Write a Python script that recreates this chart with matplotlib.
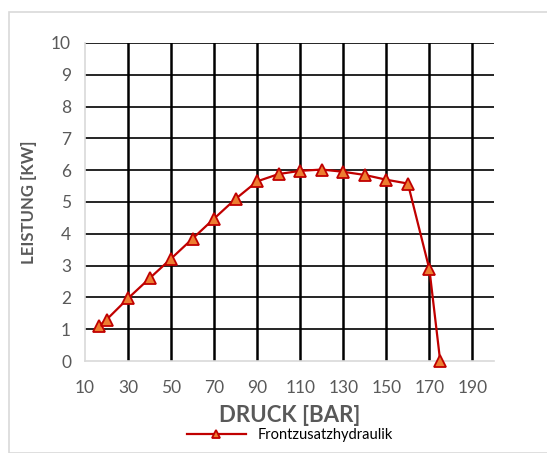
import matplotlib
matplotlib.use("Agg")
import matplotlib.pyplot as plt
from matplotlib.patches import Rectangle

plt.rcParams['font.family'] = ['Lato', 'DejaVu Sans']

druck = [16.5, 20, 30, 40, 50, 60, 70, 80, 90, 100, 110, 120, 130, 140, 150, 160, 170, 175]
leistung = [1.1, 1.3, 1.97, 2.6, 3.22, 3.85, 4.48, 5.1, 5.65, 5.88, 5.98, 6.02, 5.95, 5.85,
            5.7, 5.58, 2.88, 0.0]
xticks = list(range(10, 200, 20))
yticks = list(range(0, 11))

fig = plt.figure(figsize=(5.47, 4.53), dpi=100)
ax = fig.add_axes([85 / 547, 1 - 361 / 453, (494 - 85) / 547, (361 - 43) / 453])

# outer chart border
fig.patches.append(Rectangle((9 / 547, 0), 1, 1 - 12 / 453, transform=fig.transFigure,
                             fill=False, edgecolor='#d9d9d9', linewidth=1.2))

for x in xticks[1:]:
    ax.axvline(x, color='black', linewidth=1.8, zorder=1)
for y in yticks[1:]:
    ax.axhline(y, color='black', linewidth=1.2, zorder=1)

ax.plot(druck, leistung, color='#c00000', linewidth=1.6, marker='^', markersize=8.5,
        markerfacecolor='#ed7d31', markeredgecolor='#c00000', markeredgewidth=1.3,
        label='Frontzusatzhydraulik', zorder=3, clip_on=False)

ax.set_xlim(10, 200)
ax.set_ylim(0, 10)
ax.set_xticks(xticks)
ax.set_yticks(yticks)
ax.tick_params(length=0, labelsize=12.5, colors='#595959')
ax.tick_params(axis='x', pad=14)
ax.tick_params(axis='y', pad=10)
for s in ['top', 'right']:
    ax.spines[s].set_visible(False)
for s in ['left', 'bottom']:
    ax.spines[s].set_color('#d9d9d9')
    ax.spines[s].set_linewidth(1.2)

ax.set_xlabel('DRUCK [BAR]', fontsize=16, fontweight='bold', color='#595959', labelpad=6)
ax.set_ylabel('LEISTUNG [KW]', fontsize=12, fontweight='bold', color='#595959', labelpad=10)

fig.legend(loc='lower center', bbox_to_anchor=(0.53, -0.005), frameon=False, fontsize=10.5,
           handlelength=4, markerscale=0.65)

fig.savefig('out.png', dpi=100)
